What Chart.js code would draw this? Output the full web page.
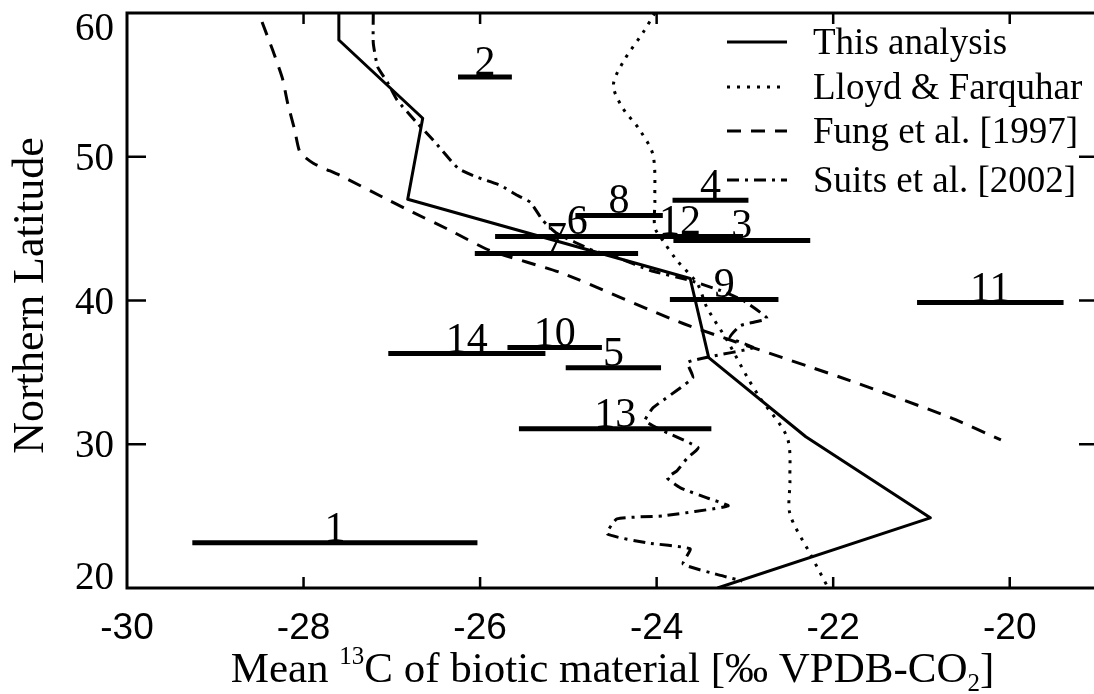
<!DOCTYPE html>
<html>
<head>
<meta charset="utf-8">
<title>Mean 13C of biotic material by latitude</title>
<script src="https://cdn.jsdelivr.net/npm/chart.js@4.4.1/dist/chart.umd.min.js"></script>
<style>
  html, body { margin: 0; padding: 0; overflow: hidden; background: #fff; }
  #wrap { width: 1104px; height: 694px; }
</style>
</head>
<body>
<div id="wrap"><canvas id="latChart" width="1104" height="694"></canvas></div>
<script>
// axis ticks
const xTicks = [-30, -28, -26, -24, -22, -20];
const yTicks = [20, 30, 40, 50, 60];

// This analysis
const analysisC13 = [-27.60, -27.60, -26.65, -26.82, -23.62, -23.41, -22.31, -20.90, -23.31];
const analysisLat = [60.0, 58.12, 52.68, 47.04, 41.53, 36.03, 30.52, 24.88, 20.0];

// Lloyd & Farquhar
const lloydC13 = [-24.02, -24.15, -24.38, -24.49, -24.39, -24.19, -24.04, -24.02, -24.02, -23.93, -23.77,
                  -23.54, -23.43, -23.20, -22.97, -22.83, -22.52, -22.49, -22.49, -22.26, -22.05];
const lloydLat = [60.0, 58.68, 56.59, 54.98, 53.45, 51.85, 50.10, 46.97, 45.09, 44.18, 42.79,
                  41.18, 39.51, 37.21, 34.63, 33.24, 30.45, 27.46, 25.16, 22.37, 19.93];

// Fung et al. [1997]
const fungC13 = [-28.47, -28.35, -28.24, -28.18, -28.10, -28.04, -27.89, -27.59, -27.10, -26.76, -26.34,
                 -25.89, -25.06, -23.70, -21.81, -20.67, -20.10];
const fungLat = [59.37, 57.42, 55.47, 53.73, 51.85, 50.31, 49.55, 48.71, 47.18, 46.13, 44.88,
                 43.48, 41.88, 38.40, 34.43, 31.85, 30.30];

// Suits et al. [2002]
const suitsC13 = [-27.21, -27.21, -27.16, -27.05, -26.94, -26.71, -26.53, -26.25, -26.03, -25.77, -25.58,
                  -25.43, -25.29, -25.13, -24.72, -24.45, -24.07, -23.62, -23.28, -23.02, -22.75, -23.05,
                  -23.17, -22.91, -23.39, -23.65, -23.59, -24.04, -24.13, -23.93, -23.53, -23.65, -23.77,
                  -23.88, -23.73, -23.43, -23.19, -23.93, -24.45, -24.56, -24.11, -23.62, -23.70, -23.25, -23.03];
const suitsLat = [60.0, 57.91, 56.24, 55.19, 53.94, 52.33, 51.15, 49.20, 48.57, 48.01, 47.32,
                  46.83, 45.57, 44.67, 43.48, 43.00, 42.09, 41.39, 40.70, 40.00, 38.75, 38.26,
                  37.42, 36.72, 36.10, 35.68, 34.63, 32.54, 31.64, 30.94, 29.76, 29.06, 28.15,
                  27.67, 26.97, 26.27, 25.71, 25.02, 24.81, 23.76, 23.14, 22.72, 21.67, 20.84, 20.49];

// measurement sites: latitude and range of d13C
const siteIds = ['1', '2', '3', '4', '5', '6', '7', '8', '9', '10', '11', '12', '13', '14'];
const siteLat = [23.14, 55.54, 44.18, 46.97, 35.33, 44.46, 43.27, 45.92, 40.07, 36.73, 39.86, 44.46, 31.08, 36.31];
const siteMin = [-29.26, -26.25, -23.81, -23.82, -25.03, -25.83, -26.06, -24.92, -23.85, -25.69, -21.05, -24.45, -25.56, -27.04];
const siteMax = [-26.03, -25.64, -22.26, -22.96, -23.95, -23.97, -24.21, -23.93, -22.62, -24.62, -19.39, -23.02, -23.38, -25.26];

const serif = '"Liberation Serif", "Times New Roman", serif';
const sans = '"Liberation Sans", Arial, sans-serif';

const toPoints = (xs, ys) => xs.map((v, i) => ({ x: v, y: ys[i] }));

const series = [
  { label: 'This analysis', x: analysisC13, y: analysisLat, dash: [], tension: 0 },
  { label: 'Lloyd & Farquhar', x: lloydC13, y: lloydLat, dash: [3, 7], tension: 0.3 },
  { label: 'Fung et al. [1997]', x: fungC13, y: fungLat, dash: [14, 10], tension: 0.2 },
  { label: 'Suits et al. [2002]', x: suitsC13, y: suitsLat, dash: [12, 6, 3, 6], tension: 0.15 }
];

const datasets = [];
siteIds.forEach((id, i) => {
  datasets.push({
    label: 'site ' + id,
    data: [{ x: siteMin[i], y: siteLat[i] }, { x: siteMax[i], y: siteLat[i] }],
    showLine: true,
    borderColor: '#000',
    borderWidth: 5,
    borderCapStyle: 'butt',
    pointRadius: 0
  });
});
series.forEach(s => {
  datasets.push({
    label: s.label,
    data: toPoints(s.x, s.y),
    showLine: true,
    borderColor: '#000',
    borderWidth: 3,
    borderDash: s.dash,
    borderCapStyle: 'butt',
    borderJoinStyle: 'round',
    tension: s.tension,
    pointRadius: 0
  });
});

function line(ctx, x1, y1, x2, y2) {
  ctx.beginPath();
  ctx.moveTo(x1, y1);
  ctx.lineTo(x2, y2);
  ctx.stroke();
}

// frame, inward ticks, labels and legend
const decor = {
  id: 'decor',
  afterDatasetsDraw(chart) {
    const { ctx, chartArea: a, scales: { x, y } } = chart;
    ctx.save();
    ctx.strokeStyle = '#000';
    ctx.fillStyle = '#000';
    ctx.lineWidth = 3;
    ctx.setLineDash([]);
    ctx.strokeRect(a.left, a.top, a.right - a.left, a.bottom - a.top);

    ctx.lineWidth = 2.5;
    xTicks.forEach(v => {
      const px = x.getPixelForValue(v);
      if (px > a.left + 2) {
        line(ctx, px, a.bottom, px, a.bottom - 11);
        line(ctx, px, a.top, px, a.top + 11);
      }
    });
    yTicks.forEach(v => {
      const py = y.getPixelForValue(v);
      if (py > a.top + 2 && py < a.bottom - 2) {
        line(ctx, a.left, py, a.left + 19, py);
        line(ctx, a.right, py, a.right - 19, py);
      }
    });

    // x tick labels
    ctx.font = '37px ' + sans;
    ctx.textAlign = 'center';
    ctx.textBaseline = 'alphabetic';
    xTicks.forEach(v => ctx.fillText(String(v), x.getPixelForValue(v), a.bottom + 51));

    // y tick labels, kept inside the frame height at the ends
    ctx.font = '39px ' + serif;
    ctx.textAlign = 'right';
    yTicks.forEach(v => {
      let py = y.getPixelForValue(v);
      py = Math.min(Math.max(py, a.top + 14), a.bottom - 12);
      ctx.fillText(String(v), a.left - 13, py + 13);
    });

    // y axis title
    ctx.save();
    ctx.translate(43, (a.top + a.bottom) / 2 - 5);
    ctx.rotate(-Math.PI / 2);
    ctx.font = '44px ' + serif;
    ctx.textAlign = 'center';
    ctx.fillText('Northern Latitude', 0, 0);
    ctx.restore();

    // x axis title with superscript 13 and subscript 2
    const big = '43px ' + serif, small = '25px ' + serif;
    const parts = [
      { t: 'Mean ', f: big, dy: 0 },
      { t: '13', f: small, dy: -18 },
      { t: 'C of biotic material [\u2030 VPDB-CO', f: big, dy: 0 },
      { t: '2', f: small, dy: 9 },
      { t: ']', f: big, dy: 0 }
    ];
    let total = 0;
    parts.forEach(p => { ctx.font = p.f; p.w = ctx.measureText(p.t).width; total += p.w; });
    let cx = (a.left + a.right) / 2 - total / 2;
    const base = a.bottom + 94;
    ctx.textAlign = 'left';
    parts.forEach(p => { ctx.font = p.f; ctx.fillText(p.t, cx, base + p.dy); cx += p.w; });

    // site numbers above their bars
    ctx.font = '42px ' + serif;
    ctx.textAlign = 'center';
    siteIds.forEach((id, i) => {
      const px = (x.getPixelForValue(siteMin[i]) + x.getPixelForValue(siteMax[i])) / 2;
      const py = y.getPixelForValue(siteLat[i]);
      ctx.fillText(id, px, py - 2);
    });

    // legend
    const rows = [42, 87, 131, 180];
    ctx.font = '37px ' + serif;
    ctx.textAlign = 'left';
    series.forEach((s, i) => {
      ctx.lineWidth = 3;
      ctx.setLineDash(s.dash);
      line(ctx, 727, rows[i], 787, rows[i]);
      ctx.setLineDash([]);
      ctx.fillText(s.label, 813, rows[i] + 12);
    });
    ctx.restore();
  }
};

new Chart(document.getElementById('latChart'), {
  type: 'scatter',
  data: { datasets },
  options: {
    responsive: false,
    animation: false,
    layout: { padding: { left: 127, top: 13, right: 6, bottom: 106 } },
    plugins: { legend: { display: false }, tooltip: { enabled: false } },
    scales: {
      x: { type: 'linear', min: -30, max: -19, display: false },
      y: { type: 'linear', min: 20, max: 60, display: false }
    }
  },
  plugins: [decor]
});
</script>
</body>
</html>
